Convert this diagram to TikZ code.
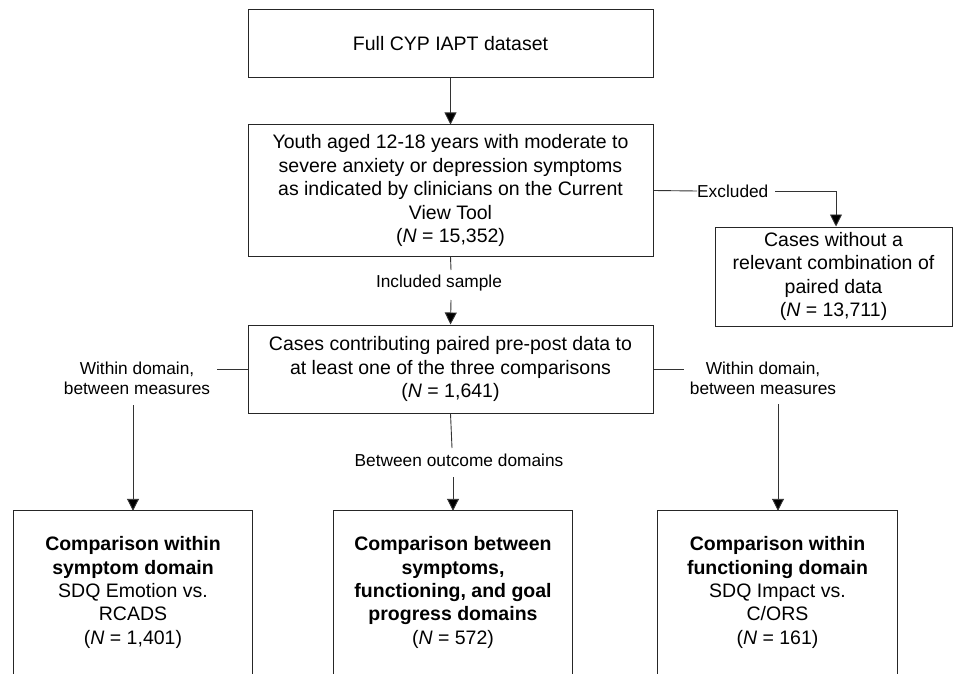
\documentclass[tikz,border=0pt]{standalone}
\usepackage{fontspec}
\setmainfont{Liberation Sans}
\usetikzlibrary{arrows.meta}
\tikzset{
  box/.style={draw=black!85, line width=1pt, rectangle, inner sep=0pt, align=center,
    font=\fontsize{19.5}{23.5}\selectfont},
  openbox/.style={rectangle, inner sep=0pt, align=center,
    font=\fontsize{19.5}{23.3}\selectfont},
  lbl/.style={inner sep=0pt, align=center, font=\fontsize{17.3}{20}\selectfont},
  conn/.style={draw=black!80, line width=0.9pt},
  arr/.style={conn, -{Triangle[width=12pt,length=12pt,fill=black]}}
}
\begin{document}
\begin{tikzpicture}[x=1pt,y=-1pt]
\useasboundingbox (0,0) rectangle (953,674);
% main boxes
\node[box, minimum width=405pt, minimum height=68pt] (n1) at (450.5,44) {Full CYP IAPT dataset};
\node[box, minimum width=405pt, minimum height=131pt] (n2) at (450.5,190.5)
  {Youth aged 12-18 years with moderate to\\severe anxiety or depression symptoms\\as indicated by clinicians on the Current\\View Tool\\(\textit{N} = 15,352)};
\node[box, minimum width=405pt, minimum height=88pt] (n3) at (450.5,369)
  {Cases contributing paired pre-post data to\\at least one of the three comparisons\\(\textit{N} = 1,641)};
\node[box, minimum width=237pt, minimum height=99pt] (n4) at (833.5,276.5)
  {Cases without a\\relevant combination of\\paired data\\(\textit{N} = 13,711)};
% bottom open boxes
\node[openbox, minimum width=238pt, minimum height=163pt] (bA) at (133,592.5)
  {\textbf{Comparison within}\\\textbf{symptom domain}\\SDQ Emotion vs.\\RCADS\\(\textit{N} = 1,401)};
\node[openbox, minimum width=238pt, minimum height=163pt] (bB) at (453,592.5)
  {\textbf{Comparison between}\\\textbf{symptoms,}\\\textbf{functioning, and goal}\\\textbf{progress domains}\\(\textit{N} = 572)};
\node[openbox, minimum width=239pt, minimum height=163pt] (bC) at (777.5,592.5)
  {\textbf{Comparison within}\\\textbf{functioning domain}\\SDQ Impact vs.\\C/ORS\\(\textit{N} = 161)};
\foreach \b in {bA,bB,bC}{
  \draw[draw=black!85, line width=1pt] (\b.south west) -- (\b.north west) -- (\b.north east) -- (\b.south east);
}
% labels
\node[lbl] (inc) at (439,283) {Included sample};
\node[lbl, anchor=west] (exc) at (697,191) {Excluded};
\node[lbl] (wl) at (137,378) {Within domain,\\between measures};
\node[lbl] (wr) at (763,378) {Within domain,\\between measures};
\node[lbl] (bo) at (459,460) {Between outcome domains};
% coordinates
\coordinate (i1) at (451,270);
\coordinate (i2) at (451,300);
\coordinate (e1) at (775,191);
\coordinate (e2) at (836,191);
\coordinate (l1) at (217,369);
\coordinate (l2) at (133,405);
\coordinate (r1) at (684,369);
\coordinate (r2) at (778,404);
\coordinate (m1) at (452,448);
\coordinate (m2) at (453,477);
% connectors
\draw[arr] (n1.south) -- (n2.north);
\draw[conn] (n2.south) -- (i1);
\draw[arr] (i2) -- (n3.north);
\draw[conn] (n2.east) -- (exc.west);
\draw[arr] (e1) -- (e2) -- (e2 |- n4.north);
\draw[conn] (n3.west) -- (l1);
\draw[arr] (l2) -- (bA.north);
\draw[conn] (n3.east) -- (r1);
\draw[arr] (r2) -- (r2 |- bC.north);
\draw[conn] (n3.south) -- (m1);
\draw[arr] (m2) -- (bB.north);
\end{tikzpicture}
\end{document}
